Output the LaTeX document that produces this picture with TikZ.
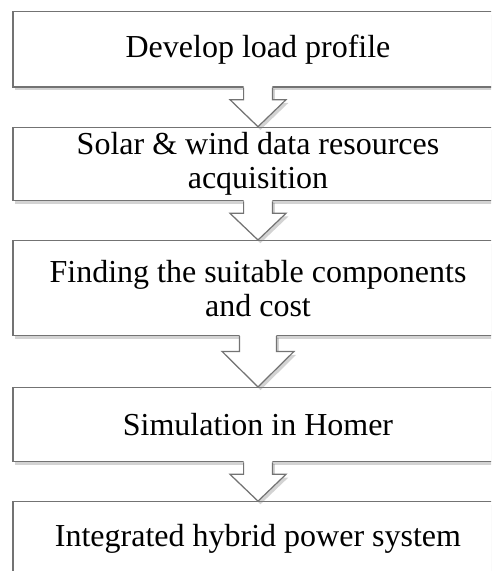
\documentclass[tikz,border=0pt]{standalone}
\usepackage{fontspec}
\setmainfont{Liberation Serif}
\usetikzlibrary{calc,shadows}

\tikzset{
  stepbox/.style={draw=black!55, line width=0.6pt, fill=white, inner sep=0pt,
    minimum width=245pt, align=center, font=\fontsize{16}{17}\selectfont,
    drop shadow={shadow xshift=1.2pt, shadow yshift=-1.6pt, opacity=0.35}},
  arrowfill/.style={fill=white,
    drop shadow={shadow xshift=1.2pt, shadow yshift=-1.6pt, opacity=0.35}},
  arrowline/.style={draw=black!55, line width=0.6pt, line join=miter}
}

% block arrow from the bottom of one step to the top of the next (#3 = size)
\newcommand{\steparrow}[3]{%
  \fill[arrowfill] ($(#1.south)+(-14.4*#3,-1.5)$) -- ($(#1.south)+(-14.4*#3,12*#3)$)
    -- ($(#1.south)+(-28*#3,12*#3)$) -- (#2.north)
    -- ($(#1.south)+(28*#3,12*#3)$) -- ($(#1.south)+(14.4*#3,12*#3)$)
    -- ($(#1.south)+(14.4*#3,-1.5)$) -- cycle;
  \draw[arrowline] ($(#1.south)+(-14.4*#3,0)$) -- ($(#1.south)+(-14.4*#3,12*#3)$)
    -- ($(#1.south)+(-28*#3,12*#3)$) -- (#2.north)
    -- ($(#1.south)+(28*#3,12*#3)$) -- ($(#1.south)+(14.4*#3,12*#3)$)
    -- ($(#1.south)+(14.4*#3,0)$);
}

\begin{document}
\begin{tikzpicture}[x=0.5pt,y=-0.5pt]
    \useasboundingbox (0,0) rectangle (491,571);
    \clip (0,0) rectangle (491,571);
    % Steps
    \node[stepbox, minimum height=37.6pt] (load) at (258,49.5) {Develop load profile};
    \node[stepbox, minimum height=36.7pt] (data) at (258,164) {Solar \& wind data resources\\acquisition};
    \node[stepbox, minimum height=47.5pt] (comp) at (258,288.1) {Finding the suitable components\\and cost};
    \node[stepbox, minimum height=37.1pt] (homer) at (258,424.6) {Simulation in Homer};
    \node[stepbox, minimum height=37pt] (hybrid) at (258,538.7) {Integrated hybrid power system};
    % Arrows between steps
    \steparrow{load}{data}{1}
    \steparrow{data}{comp}{1}
    \steparrow{comp}{homer}{1.28}
    \steparrow{homer}{hybrid}{1}
\end{tikzpicture}
\end{document}
